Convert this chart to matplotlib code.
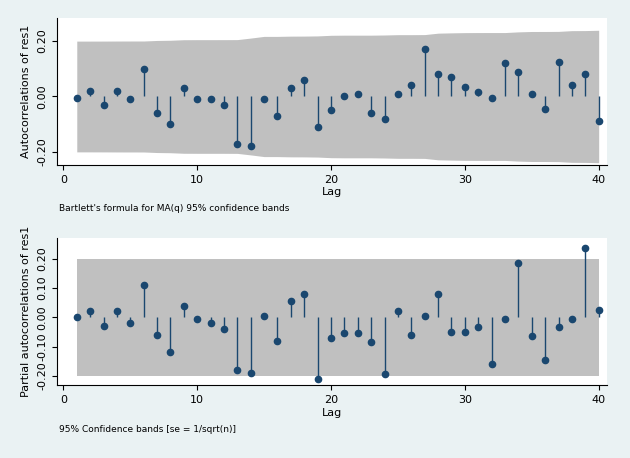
import numpy as np
import matplotlib
matplotlib.use("Agg")
import matplotlib.pyplot as plt

lags = np.arange(1, 41)
acf = [-0.005, 0.02, -0.03, 0.02, -0.01, 0.10, -0.06, -0.10, 0.03, -0.01,
       -0.01, -0.03, -0.17, -0.18, -0.01, -0.07, 0.03, 0.06, -0.11, -0.05,
       0.00, 0.01, -0.06, -0.08, 0.01, 0.04, 0.17, 0.08, 0.07, 0.035,
       0.015, -0.005, 0.12, 0.09, 0.01, -0.045, 0.125, 0.04, 0.08, -0.09]
pacf = [0.00, 0.02, -0.03, 0.02, -0.02, 0.11, -0.06, -0.12, 0.04, -0.005,
        -0.02, -0.04, -0.18, -0.19, 0.005, -0.08, 0.055, 0.08, -0.21, -0.07,
        -0.055, -0.055, -0.085, -0.195, 0.02, -0.06, 0.005, 0.08, -0.05, -0.05,
        -0.035, -0.16, -0.005, 0.185, -0.065, -0.145, -0.035, -0.005, 0.235, 0.025]
n_obs = 96

acf_a = np.array(acf)
cum = np.concatenate([[0], np.cumsum(acf_a[:-1] ** 2)])
bart = 1.96 * np.sqrt((1 + 2 * cum) / n_obs)
pband = np.full(40, 1.96 / np.sqrt(n_obs))

navy = "#1a476f"
fig = plt.figure(figsize=(6.3, 4.58), dpi=100)
fig.patch.set_facecolor("#eaf2f3")

def panel(rect, vals, band, ylim, yticks, ylabel, note):
    ax = fig.add_axes(rect)
    ax.set_facecolor("white")
    ax.fill_between(lags, -band, band, color="#c0c0c0", lw=0)
    ax.vlines(lags, 0, vals, color=navy, lw=1)
    ax.plot(lags, vals, "o", color=navy, ms=4.5)
    ax.set_xlim(-0.5, 40.6)
    ax.set_ylim(*ylim)
    ax.set_xticks([0, 10, 20, 30, 40])
    ax.set_yticks(yticks)
    ax.set_yticklabels([f"{t:.2f}" if t >= 0 else f"-{abs(t):.2f}" for t in yticks],
                       rotation=90, va="center", fontsize=8)
    ax.tick_params(axis="x", labelsize=8)
    for s in ["top", "right"]:
        ax.spines[s].set_visible(False)
    ax.set_xlabel("Lag", fontsize=8, labelpad=2)
    ax.set_ylabel(ylabel, fontsize=8)
    ax.text(0.005, -0.30, note, transform=ax.transAxes, fontsize=6.5, va="center")
    return ax

panel([0.090, 0.640, 0.873, 0.321], acf_a, bart, (-0.247, 0.284),
      [-0.2, 0.0, 0.2], "Autocorrelations of res1",
      "Bartlett's formula for MA(q) 95% confidence bands")
panel([0.090, 0.159, 0.873, 0.321], np.array(pacf), pband, (-0.232, 0.27),
      [-0.2, -0.1, 0.0, 0.1, 0.2], "Partial autocorrelations of res1",
      "95% Confidence bands [se = 1/sqrt(n)]")

fig.savefig("out.png", dpi=100, facecolor=fig.get_facecolor())
